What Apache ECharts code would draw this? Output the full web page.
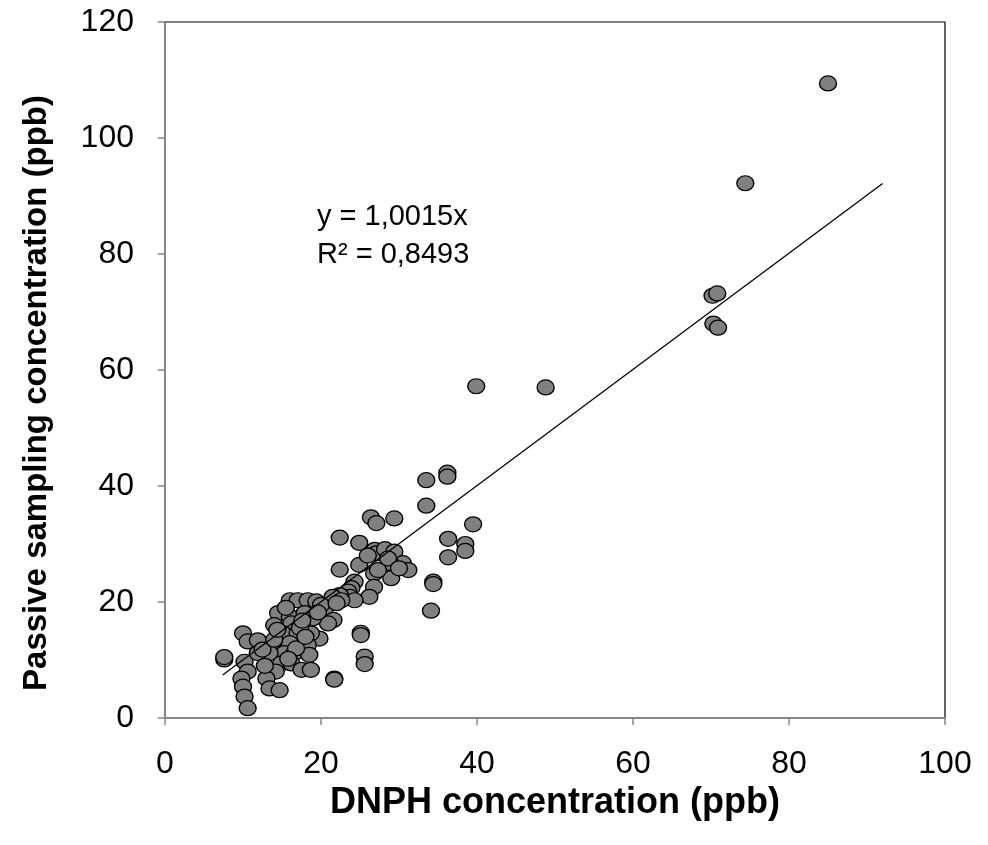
<!DOCTYPE html>
<html>
<head>
<meta charset="utf-8">
<script src="https://cdn.jsdelivr.net/npm/echarts@6/dist/echarts.min.js"></script>
<style>html,body{margin:0;padding:0;background:#fff}#c{width:988px;height:845px}</style>
</head>
<body>
<div id="c"></div>
<script>
// DNPH concentration (x) vs passive sampling concentration (y), ppb
const dnph = [
  85.0, 74.4, 70.2, 70.8, 70.3, 70.9, 39.9, 48.8,
  33.5, 36.2, 36.2, 33.5, 39.5, 36.3, 38.5, 38.5, 36.3, 34.4, 34.4, 34.1,
  26.4, 27.1, 29.4, 22.4, 24.9, 26.9, 27.1, 28.2, 29.4, 30.5, 31.2, 28.9,
  29.0, 26.8, 24.9, 22.4, 24.3, 23.9, 26.8, 26.2, 23.5, 23.7, 24.3, 22.4,
  21.5, 22.6, 20.5, 21.6, 20.9, 19.8, 25.1, 25.1, 25.6, 25.6, 21.7, 21.7,
  16.0, 17.0, 18.3, 19.4, 14.5, 16.0, 17.9, 14.0, 16.2, 18.1, 15.1, 17.0,
  18.7, 13.8, 16.0, 18.3, 15.3, 16.6, 18.5, 13.4, 14.9, 16.2, 17.5, 18.7,
  14.2, 13.0, 13.4, 14.7, 10.0, 10.6, 11.9, 7.6, 7.6, 10.2, 10.6, 11.9,
  9.8, 10.0, 10.2, 10.6, 15.5, 17.3, 19.0, 12.5, 14.0, 16.8, 18.0, 20.0,
  15.8, 17.6, 12.8, 14.4, 19.6, 22.0, 27.3, 28.6, 26.0, 30.0
];
const passive = [
  109.4, 92.2, 72.8, 73.2, 68.0, 67.3, 57.2, 57.0,
  41.0, 42.3, 41.6, 36.6, 33.4, 30.9, 30.0, 28.8, 27.7, 23.5, 23.1, 18.5,
  34.6, 33.6, 34.4, 31.1, 30.2, 29.0, 28.4, 29.1, 28.7, 26.7, 25.5, 26.7,
  24.1, 24.9, 26.4, 25.6, 23.5, 22.4, 22.6, 20.9, 21.8, 20.9, 20.3, 21.2,
  20.9, 20.3, 18.9, 16.9, 16.3, 13.7, 14.7, 14.3, 10.6, 9.3, 6.8, 6.6,
  20.3, 20.3, 20.3, 20.1, 18.1, 17.5, 18.1, 16.0, 16.3, 16.3, 14.6, 14.6,
  14.6, 12.9, 12.9, 12.6, 11.2, 11.2, 10.9, 11.2, 9.4, 9.4, 8.3, 8.3,
  8.0, 6.8, 5.1, 4.8, 14.6, 13.2, 13.4, 10.1, 10.5, 9.7, 8.0, 11.2,
  6.8, 5.4, 3.7, 1.7, 19.0, 15.5, 17.2, 11.8, 13.5, 12.0, 14.0, 19.5,
  10.2, 16.8, 9.0, 15.2, 18.2, 19.8, 25.5, 27.5, 28.0, 25.8
];
const trendX = [7.4, 92.0];
const slope = 1.0015;
const eqLines = ['y = 1,0015x', 'R² = 0,8493'];
const xTicks = [0, 20, 40, 60, 80, 100];
const yTicks = [0, 20, 40, 60, 80, 100, 120];
const xTitle = 'DNPH concentration (ppb)';
const yTitle = 'Passive sampling concentration (ppb)';

const pts = dnph.map((x, i) => [x, passive[i]]);
const trend = trendX.map(x => [x, slope * x]);

const chart = echarts.init(document.getElementById('c'), null, {renderer: 'canvas'});
const axisGrey = '#868686';
const font = 'Liberation Sans, Arial, sans-serif';
chart.setOption({
  animation: false,
  backgroundColor: '#fff',
  grid: {left: 165, right: 43, top: 22, bottom: 127, show: true, borderColor: '#000', borderWidth: 1.2, backgroundColor: 'transparent'},
  xAxis: {
    type: 'value', min: xTicks[0], max: xTicks[xTicks.length - 1], interval: 20,
    name: xTitle, nameLocation: 'middle', nameGap: 64,
    nameTextStyle: {fontFamily: font, fontWeight: 'bold', fontSize: 36, color: '#000'},
    axisLine: {show: true, onZero: false, lineStyle: {color: axisGrey, width: 2}},
    axisTick: {show: true, inside: false, length: 7, lineStyle: {color: axisGrey, width: 1.5}},
    axisLabel: {fontFamily: font, fontSize: 32, color: '#000', margin: 30},
    splitLine: {show: false}
  },
  yAxis: {
    type: 'value', min: yTicks[0], max: yTicks[yTicks.length - 1], interval: 20,
    axisLine: {show: true, onZero: false, lineStyle: {color: axisGrey, width: 2}},
    axisTick: {show: true, inside: false, length: 7, lineStyle: {color: axisGrey, width: 1.5}},
    axisLabel: {fontFamily: font, fontSize: 32, color: '#000', margin: 31},
    splitLine: {show: false}
  },
  series: [
    {
      type: 'line', data: trend, symbol: 'none', silent: true, z: 3,
      lineStyle: {color: '#000', width: 1.3}
    },
    {
      type: 'scatter', data: pts, symbol: 'circle', symbolSize: [17, 15], z: 2,
      itemStyle: {color: '#808080', borderColor: '#000', borderWidth: 1.3, opacity: 1}
    }
  ],
  graphic: [
    {type: 'text', left: 317, top: 198, style: {text: eqLines.join('\n'), font: '29px ' + font, fill: '#000', lineHeight: 38}},
    {type: 'text', x: 37, y: 393, rotation: Math.PI / 2,
     style: {text: yTitle, font: 'bold 33px ' + font, fill: '#000', align: 'center', verticalAlign: 'middle'}}
  ]
});
</script>
</body>
</html>
